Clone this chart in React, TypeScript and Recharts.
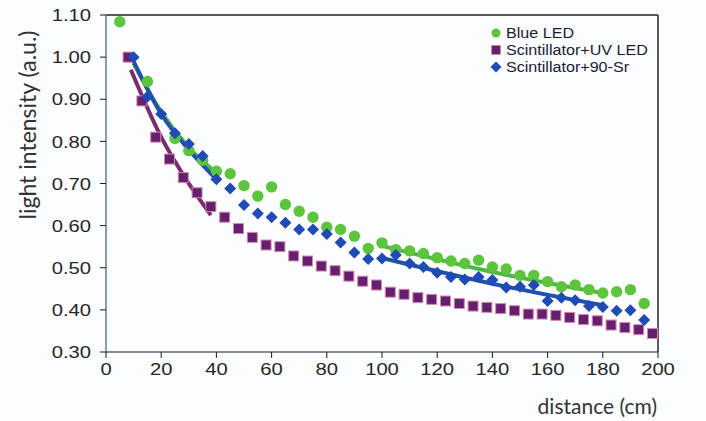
import React from 'react';
import { ComposedChart, Scatter, Line, XAxis, YAxis, Legend, Label, ReferenceLine } from 'recharts';

// ---- Data ----
const blueLedDistance = [5, 15, 25, 30, 35, 40, 45, 50, 55, 60, 65, 70, 75, 80, 85, 90, 95, 100, 105, 110, 115, 120, 125, 130, 135, 140, 145, 150, 155, 160, 165, 170, 175, 180, 185, 190, 195];
const blueLedIntensity = [1.084, 0.942, 0.807, 0.778, 0.755, 0.729, 0.723, 0.695, 0.670, 0.692, 0.650, 0.634, 0.620, 0.596, 0.591, 0.575, 0.546, 0.559, 0.543, 0.540, 0.534, 0.524, 0.516, 0.510, 0.518, 0.502, 0.497, 0.482, 0.482, 0.467, 0.455, 0.459, 0.448, 0.440, 0.443, 0.448, 0.415];

const uvLedDistance = [8, 13, 18, 23, 28, 33, 38, 43, 48, 53, 58, 63, 68, 73, 78, 83, 88, 93, 98, 103, 108, 113, 118, 123, 128, 133, 138, 143, 148, 153, 158, 163, 168, 173, 178, 183, 188, 193, 198];
const uvLedIntensity = [1.00, 0.896, 0.810, 0.758, 0.714, 0.678, 0.645, 0.620, 0.593, 0.572, 0.554, 0.550, 0.528, 0.516, 0.504, 0.493, 0.480, 0.468, 0.459, 0.442, 0.437, 0.429, 0.425, 0.421, 0.415, 0.409, 0.406, 0.403, 0.398, 0.390, 0.390, 0.387, 0.382, 0.377, 0.374, 0.364, 0.358, 0.353, 0.344];

const srDistance = [10, 15, 20, 25, 30, 35, 40, 45, 50, 55, 60, 65, 70, 75, 80, 85, 90, 95, 100, 105, 110, 115, 120, 125, 130, 135, 140, 145, 150, 155, 160, 165, 170, 175, 180, 185, 190, 195];
const srIntensity = [1.00, 0.906, 0.865, 0.819, 0.794, 0.765, 0.710, 0.688, 0.649, 0.629, 0.620, 0.607, 0.591, 0.591, 0.580, 0.560, 0.536, 0.521, 0.522, 0.530, 0.510, 0.502, 0.488, 0.478, 0.472, 0.478, 0.471, 0.453, 0.455, 0.459, 0.421, 0.429, 0.423, 0.409, 0.407, 0.398, 0.399, 0.376];

// Trend lines
const blueLedFitNearX = [10, 20, 30, 40];
const blueLedFitNearY = [0.985, 0.870, 0.785, 0.725];
const blueLedFitFarX = [100, 140, 180];
const blueLedFitFarY = [0.552, 0.490, 0.440];
const uvLedFitX = [9, 20, 30, 38];
const uvLedFitY = [0.970, 0.810, 0.700, 0.625];
const srFitNearX = [10, 20, 30, 40];
const srFitNearY = [0.990, 0.865, 0.780, 0.710];
const srFitFarX = [100, 140, 180];
const srFitFarY = [0.523, 0.462, 0.411];

const xTicks = [0, 20, 40, 60, 80, 100, 120, 140, 160, 180, 200];
const yTicks = [0.3, 0.4, 0.5, 0.6, 0.7, 0.8, 0.9, 1.0, 1.1];

const seriesNames = ['Blue LED', 'Scintillator+UV LED', 'Scintillator+90-Sr'];

const GREEN = '#5cc53b';
const PURPLE = '#651f70';
const BLUE = '#1f4bb4';
const GREEN_LINE = '#4fb545';
const PURPLE_LINE = '#7a2a6e';
const BLUE_LINE = '#2150b0';

const toPoints = (xs: number[], ys: number[]) => xs.map((x, i) => ({ x, y: ys[i] }));

const blueLedData = toPoints(blueLedDistance, blueLedIntensity);
const uvLedData = toPoints(uvLedDistance, uvLedIntensity);
const srData = toPoints(srDistance, srIntensity);

const CircleShape = (p: any) => <circle cx={p.cx} cy={p.cy} r={5.7} fill={GREEN} />;
const SquareShape = (p: any) => (
  <rect x={p.cx - 5} y={p.cy - 5} width={10} height={10} fill={PURPLE} stroke="#d58aa5" strokeWidth={1} />
);
const DiamondShape = (p: any) => (
  <polygon
    points={`${p.cx},${p.cy - 6} ${p.cx + 6},${p.cy} ${p.cx},${p.cy + 6} ${p.cx - 6},${p.cy}`}
    fill={BLUE}
  />
);

const TICK_FONT = '"Liberation Sans", Arial, sans-serif';
const TITLE_FONT = 'Lato, "Open Sans", sans-serif';

const YTick = (p: any) => (
  <g transform={`translate(${p.x},${p.y})`}>
    <text x={0} y={0} dy="0.36em" textAnchor="end" transform="scale(1.19,1)" fontFamily={TICK_FONT} fontSize={17} fill="#262626">
      {Number(p.payload.value).toFixed(2)}
    </text>
  </g>
);

const XTick = (p: any) => (
  <g transform={`translate(${p.x},${p.y})`}>
    <text x={0} y={0} dy="0.72em" textAnchor="middle" transform="scale(1.19,1)" fontFamily={TICK_FONT} fontSize={17} fill="#262626">
      {p.payload.value}
    </text>
  </g>
);

const legendMarker = (i: number) => {
  if (i === 0) return <circle cx={6} cy={6} r={4.5} fill={GREEN} />;
  if (i === 1) return <rect x={1.5} y={1.5} width={9} height={9} fill={PURPLE} stroke="#d58aa5" strokeWidth={1} />;
  return <polygon points="6,0.5 11.5,6 6,11.5 0.5,6" fill={BLUE} />;
};

const renderLegend = () => (
  <div style={{ fontFamily: TICK_FONT, fontSize: 14, color: '#1b1b35' }}>
    {seriesNames.map((name, i) => (
      <div key={name} style={{ display: 'flex', alignItems: 'center', height: 16.7 }}>
        <svg width={12} height={12} style={{ display: 'block' }}>{legendMarker(i)}</svg>
        <span style={{ marginLeft: 4, display: 'inline-block', transform: 'scaleX(1.15)', transformOrigin: 'left center', whiteSpace: 'nowrap' }}>
          {name}
        </span>
      </div>
    ))}
  </div>
);

export default function App() {
  return (
    <div style={{ position: 'absolute', left: 0, top: 0, width: 706, height: 421, background: '#fcfdff' }}>
      <ComposedChart width={706} height={421} margin={{ top: 15, right: 48, bottom: 0, left: 0 }}>
        <XAxis
          xAxisId="main"
          dataKey="x"
          type="number"
          domain={[0, 200]}
          ticks={xTicks}
          allowDataOverflow
          height={69}
          tickSize={6}
          tickMargin={5}
          tick={<XTick />}
          axisLine={{ stroke: '#1a1a1a', strokeWidth: 1.2 }}
          tickLine={{ stroke: '#1a1a1a' }}
        >
          <Label
            content={(props: any) => {
              const vb = props.viewBox || { x: 106, y: 352, width: 552, height: 69 };
              return (
                <text x={vb.x + vb.width - 1} y={vb.y + 62} textAnchor="end" fontFamily={TITLE_FONT} fontSize={21} fill="#333">
                  distance (cm)
                </text>
              );
            }}
          />
        </XAxis>
        <YAxis
          yAxisId="main"
          type="number"
          domain={[0.3, 1.1]}
          ticks={yTicks}
          allowDataOverflow
          width={106}
          tickSize={6}
          tickMargin={9}
          tick={<YTick />}
          axisLine={{ stroke: '#2f6373', strokeWidth: 1.2 }}
          tickLine={{ stroke: '#1a1a1a' }}
        >
          <Label
            content={(props: any) => {
              const vb = props.viewBox || { x: 0, y: 15, width: 106, height: 337 };
              return (
                <text
                  transform={`translate(${vb.x + 27},${vb.y + 110}) rotate(-90)`}
                  textAnchor="middle"
                  dominantBaseline="central"
                  fontFamily={TITLE_FONT}
                  fontSize={23}
                  fill="#333"
                >
                  light intensity (a.u.)
                </text>
              );
            }}
          />
        </YAxis>

        <ReferenceLine xAxisId="main" yAxisId="main" y={1.1} stroke="#222" strokeWidth={1.3} />
        <ReferenceLine xAxisId="main" yAxisId="main" x={200} stroke="#333" strokeWidth={1.6} />

        <Scatter xAxisId="main" yAxisId="main" name={seriesNames[0]} data={blueLedData} dataKey="y" shape={CircleShape} isAnimationActive={false} />
        <Scatter xAxisId="main" yAxisId="main" name={seriesNames[1]} data={uvLedData} dataKey="y" shape={SquareShape} isAnimationActive={false} />
        <Scatter xAxisId="main" yAxisId="main" name={seriesNames[2]} data={srData} dataKey="y" shape={DiamondShape} isAnimationActive={false} />

        <Line xAxisId="main" yAxisId="main" data={toPoints(uvLedFitX, uvLedFitY)} dataKey="y" type="monotone" stroke={PURPLE_LINE} strokeWidth={4} dot={false} legendType="none" isAnimationActive={false} />
        <Line xAxisId="main" yAxisId="main" data={toPoints(blueLedFitNearX, blueLedFitNearY)} dataKey="y" type="monotone" stroke={GREEN_LINE} strokeWidth={4} dot={false} legendType="none" isAnimationActive={false} />
        <Line xAxisId="main" yAxisId="main" data={toPoints(blueLedFitFarX, blueLedFitFarY)} dataKey="y" type="monotone" stroke={GREEN_LINE} strokeWidth={4} dot={false} legendType="none" isAnimationActive={false} />
        <Line xAxisId="main" yAxisId="main" data={toPoints(srFitNearX, srFitNearY)} dataKey="y" type="monotone" stroke={BLUE_LINE} strokeWidth={4} dot={false} legendType="none" isAnimationActive={false} />
        <Line xAxisId="main" yAxisId="main" data={toPoints(srFitFarX, srFitFarY)} dataKey="y" type="monotone" stroke={BLUE_LINE} strokeWidth={4} dot={false} legendType="none" isAnimationActive={false} />

        <Legend
          layout="vertical"
          align="center"
          verticalAlign="middle"
          content={renderLegend}
          wrapperStyle={{ position: 'absolute', left: 490, top: 25, width: 190, margin: 0 }}
        />
      </ComposedChart>
    </div>
  );
}
